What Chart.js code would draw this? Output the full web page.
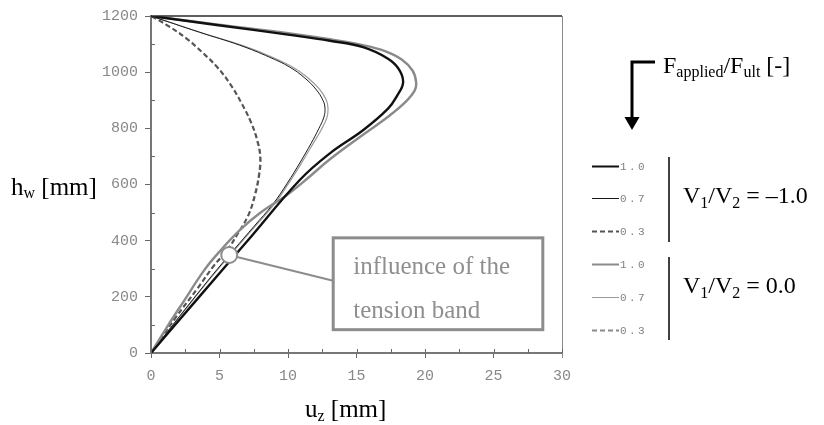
<!DOCTYPE html>
<html>
<head>
<meta charset="utf-8">
<script src="https://cdn.jsdelivr.net/npm/chart.js@4.4.1/dist/chart.umd.min.js"></script>
<style>
  html, body { margin: 0; padding: 0; background: #fff; }
  canvas { display: block; }
</style>
</head>
<body>
<canvas id="c" width="824" height="425"></canvas>
<script>
// Out-of-plane web displacement u_z [mm] over the web height h_w [mm]

// V1/V2 = -1.0, F_applied/F_ult = 1.0
const uzN10 = [0, 3.5, 7.0, 10.86, 13.06, 15.5, 17.3, 17.95, 18.4, 18.1, 17.3, 15.48, 13.06, 10.13, 4.79, 0];
const hwN10 = [0, 199, 397, 616, 711, 794, 870, 915, 963, 1010, 1048, 1089, 1112, 1133, 1168, 1200];
// V1/V2 = -1.0, F_applied/F_ult = 0.7
const uzN07 = [0, 2.4, 4.8, 7.5, 8.9, 9.95, 10.9, 11.67, 12.26, 12.62, 12.70, 12.55, 12.04, 11.23, 10.13, 8.67, 6.48, 3.55, 0];
const hwN07 = [0, 150, 296, 450, 530, 605, 680, 745, 800, 840, 872, 900, 939, 979, 1018, 1053, 1096, 1142, 1200];
// V1/V2 = -1.0, F_applied/F_ult = 0.3
const uzN03 = [0, 1.78, 3.42, 4.57, 5.57, 6.28, 7.12, 7.60, 7.90, 7.99, 7.76, 7.30, 6.60, 5.78, 4.82, 3.72, 2.55, 1.30, 0];
const hwN03 = [0, 125, 232, 310, 367, 421, 492, 563, 634, 698, 758, 822, 890, 957, 1018, 1071, 1121, 1163, 1200];

// V1/V2 = 0.0, F_applied/F_ult = 1.0
const uzZ10 = [0, 1.2, 2.4, 3.9, 5.0, 6.5, 8.0, 9.9, 11.5, 13.06, 15.5, 17.4, 18.6, 19.25, 19.35, 19.1, 18.3, 17.08, 15.48, 13.06, 10.13, 4.79, 0];
const hwZ10 = [0, 95, 185, 296, 361, 438, 500, 562, 625, 690, 778, 845, 895, 935, 965, 1005, 1045, 1075, 1096, 1117, 1138, 1170, 1200];
// V1/V2 = 0.0, F_applied/F_ult = 0.7
const uzZ07 = [0, 2.42, 4.83, 7.55, 8.97, 10.03, 11.0, 11.8, 12.45, 12.84, 12.92, 12.78, 12.25, 11.40, 10.27, 8.78, 6.55, 3.58, 0];
const hwZ07 = [0, 150, 295, 448, 528, 603, 678, 743, 797, 838, 872, 903, 942, 982, 1020, 1055, 1097, 1142, 1200];
// V1/V2 = 0.0, F_applied/F_ult = 0.3
const uzZ03 = [0, 1.80, 3.45, 4.60, 5.60, 6.30, 7.10, 7.55, 7.85, 7.94, 7.72, 7.28, 6.62, 5.82, 4.87, 3.77, 2.60, 1.35, 0];
const hwZ03 = [0, 125, 232, 310, 367, 421, 492, 563, 634, 698, 758, 822, 890, 957, 1018, 1071, 1121, 1163, 1200];

// axis ticks
const uzTicks = [0, 5, 10, 15, 20, 25, 30];
const hwTicks = [0, 200, 400, 600, 800, 1000, 1200];

// legend texts
const loadLabels = ['1.0', '0.7', '0.3'];
const ratioLabels = ['\u20131.0', '0.0'];

// annotated point ("influence of the tension band") and its note
const bandPoint = { uz: 5.71, hw: 349 };
const noteLines = ['influence of the', 'tension band'];

// line styles, one per curve
const styles = [
  { uz: uzN10, hw: hwN10, color: '#111111', width: 2.4, dash: [], order: 1 },
  { uz: uzN07, hw: hwN07, color: '#1a1a1a', width: 1.0, dash: [], order: 3 },
  { uz: uzN03, hw: hwN03, color: '#555555', width: 2.0, dash: [5, 3], order: 5 },
  { uz: uzZ10, hw: hwZ10, color: '#8a8a8a', width: 2.4, dash: [], order: 2 },
  { uz: uzZ07, hw: hwZ07, color: '#9a9a9a', width: 1.2, dash: [], order: 4 },
  { uz: uzZ03, hw: hwZ03, color: '#8a8a8a', width: 1.5, dash: [5, 3], order: 6 }
];

const datasets = styles.map(s => ({
  data: s.uz.map((u, i) => ({ x: u, y: s.hw[i] })),
  showLine: true,
  borderColor: s.color,
  borderWidth: s.width,
  borderDash: s.dash,
  pointRadius: 0,
  tension: 0.4,
  fill: false,
  order: s.order
}));

const SERIF = '"Liberation Serif", "Times New Roman", serif';
const MONO = '"Liberation Mono", "Courier New", monospace';

function richText(ctx, parts, x, y, color) {
  ctx.save();
  ctx.fillStyle = color;
  ctx.textAlign = 'left';
  ctx.textBaseline = 'alphabetic';
  for (const p of parts) {
    ctx.font = p.s + 'px ' + SERIF;
    ctx.fillText(p.t, x, y + (p.dy || 0));
    x += ctx.measureText(p.t).width;
  }
  ctx.restore();
}

function spacedText(ctx, str, x, y, pitch) {
  for (let i = 0; i < str.length; i++) ctx.fillText(str[i], x + i * pitch, y);
}

const decorations = {
  id: 'decorations',
  afterDatasetsDraw(chart) {
    const { ctx, chartArea: a, scales: { x, y } } = chart;
    ctx.save();
    // frame: top and right edges
    ctx.strokeStyle = '#2a2a2a';
    ctx.lineWidth = 1.5;
    ctx.beginPath(); ctx.moveTo(a.left, a.top); ctx.lineTo(a.right, a.top); ctx.stroke();
    ctx.strokeStyle = '#8a8a8a';
    ctx.lineWidth = 1;
    ctx.beginPath(); ctx.moveTo(a.right + 0.5, a.top); ctx.lineTo(a.right + 0.5, a.bottom + 5); ctx.stroke();

    // minor ticks inside the plot
    ctx.strokeStyle = '#666';
    ctx.lineWidth = 1;
    for (let v = 100; v < 1200; v += 200) {
      const py = Math.round(y.getPixelForValue(v)) + 0.5;
      ctx.beginPath(); ctx.moveTo(a.left, py); ctx.lineTo(a.left + 4, py); ctx.stroke();
    }
    for (let v = 2.5; v < 30; v += 5) {
      const px = Math.round(x.getPixelForValue(v)) + 0.5;
      ctx.beginPath(); ctx.moveTo(px, a.bottom); ctx.lineTo(px, a.bottom - 4); ctx.stroke();
    }
    for (const v of uzTicks) {
      const px = Math.round(x.getPixelForValue(v)) + 0.5;
      ctx.beginPath(); ctx.moveTo(px, a.bottom); ctx.lineTo(px, a.bottom - 4); ctx.stroke();
    }

    // note on the tension band
    const cx = x.getPixelForValue(bandPoint.uz);
    const cy = y.getPixelForValue(bandPoint.hw);
    const r = 8;
    const bx0 = x.getPixelForValue(13.3), bx1 = x.getPixelForValue(28.6);
    const by0 = y.getPixelForValue(410), by1 = y.getPixelForValue(83);
    const ly = y.getPixelForValue(257);
    ctx.strokeStyle = '#8c8c8c';
    ctx.lineWidth = 2;
    const ang = Math.atan2(ly - cy, bx0 - cx);
    ctx.beginPath();
    ctx.moveTo(cx + r * Math.cos(ang), cy + r * Math.sin(ang));
    ctx.lineTo(bx0, ly);
    ctx.stroke();
    ctx.fillStyle = '#fff';
    ctx.beginPath(); ctx.arc(cx, cy, r, 0, Math.PI * 2); ctx.fill(); ctx.stroke();
    ctx.lineWidth = 3;
    ctx.fillRect(bx0, by0, bx1 - bx0, by1 - by0);
    ctx.strokeRect(bx0, by0, bx1 - bx0, by1 - by0);
    ctx.fillStyle = '#8f8f8f';
    ctx.font = '25px ' + SERIF;
    ctx.textAlign = 'left';
    ctx.textBaseline = 'alphabetic';
    ctx.fillText(noteLines[0], bx0 + 20, by0 + 36);
    ctx.fillText(noteLines[1], bx0 + 20, by0 + 80);
    ctx.restore();
  },
  afterDraw(chart) {
    const { ctx } = chart;
    ctx.save();
    // axis titles
    richText(ctx, [{ t: 'h', s: 25 }, { t: 'w', s: 16, dy: 3 }, { t: ' [mm]', s: 25 }], 11, 195, '#000');
    richText(ctx, [{ t: 'u', s: 25 }, { t: 'z', s: 16, dy: 4 }, { t: ' [mm]', s: 25 }], 305, 417, '#000');

    // load-level heading with arrow
    richText(ctx, [{ t: 'F', s: 24 }, { t: 'applied', s: 16, dy: 4 }, { t: '/F', s: 24 }, { t: 'ult', s: 16, dy: 4 }, { t: ' [-]', s: 24 }], 663, 73, '#000');
    ctx.strokeStyle = '#000';
    ctx.lineWidth = 3;
    ctx.beginPath(); ctx.moveTo(655, 62); ctx.lineTo(632, 62); ctx.lineTo(632, 119); ctx.stroke();
    ctx.fillStyle = '#000';
    ctx.beginPath(); ctx.moveTo(624.5, 117); ctx.lineTo(639.5, 117); ctx.lineTo(632, 130); ctx.closePath(); ctx.fill();

    // legend samples
    const rows = [166, 198, 231, 264, 297, 330];
    rows.forEach((ry, i) => {
      const s = styles[i];
      ctx.strokeStyle = s.color;
      ctx.lineWidth = i % 3 === 1 ? 1 : 2;
      ctx.setLineDash(s.dash.length ? [5, 3] : []);
      ctx.beginPath(); ctx.moveTo(592, ry + 0.5); ctx.lineTo(619, ry + 0.5); ctx.stroke();
      ctx.setLineDash([]);
      ctx.fillStyle = '#808080';
      ctx.font = '11px ' + MONO;
      ctx.textBaseline = 'middle';
      ctx.textAlign = 'left';
      spacedText(ctx, loadLabels[i % 3], 620, ry + 1, 9);
    });

    // group brackets
    ctx.strokeStyle = '#000';
    ctx.lineWidth = 1.5;
    ctx.beginPath(); ctx.moveTo(669, 157); ctx.lineTo(669, 242); ctx.stroke();
    ctx.beginPath(); ctx.moveTo(669, 257); ctx.lineTo(669, 340); ctx.stroke();
    const vParts = val => [{ t: 'V', s: 24 }, { t: '1', s: 16, dy: 5 }, { t: '/V', s: 24 }, { t: '2', s: 16, dy: 5 }, { t: ' = ' + val, s: 24 }];
    richText(ctx, vParts(ratioLabels[0]), 683, 203, '#000');
    richText(ctx, vParts(ratioLabels[1]), 683, 293, '#000');
    ctx.restore();
  }
};

new Chart(document.getElementById('c'), {
  type: 'scatter',
  data: { datasets },
  options: {
    responsive: false,
    animation: false,
    events: [],
    layout: { padding: { left: 0, right: 262, top: 16, bottom: 0 } },
    plugins: { legend: { display: false }, tooltip: { enabled: false } },
    scales: {
      x: {
        type: 'linear',
        min: 0, max: 30,
        afterBuildTicks: s => { s.ticks = uzTicks.map(v => ({ value: v })); },
        afterFit: s => { s.height = 72; },
        grid: { drawOnChartArea: false, drawTicks: true, tickLength: 5, tickColor: '#666', lineWidth: 1 },
        border: { display: true, color: '#777', width: 2 },
        ticks: { color: '#888', font: { family: MONO, size: 15 }, padding: 9, maxRotation: 0, callback: v => String(v) }
      },
      y: {
        type: 'linear',
        min: 0, max: 1200,
        afterBuildTicks: s => { s.ticks = hwTicks.map(v => ({ value: v })); },
        afterFit: s => { s.width = 151; },
        grid: { drawOnChartArea: false, drawTicks: true, tickLength: 6, tickColor: '#666', lineWidth: 1 },
        border: { display: true, color: '#777', width: 2 },
        ticks: { color: '#888', font: { family: MONO, size: 15 }, padding: 7, callback: v => String(v) }
      }
    }
  },
  plugins: [decorations]
});
</script>
</body>
</html>
